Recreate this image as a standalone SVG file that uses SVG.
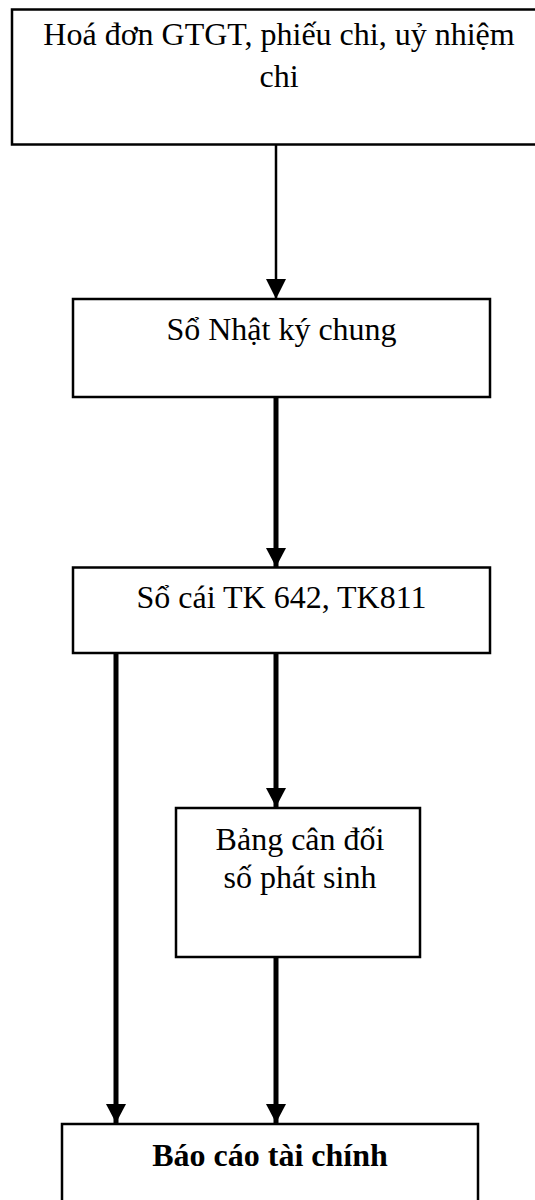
<svg xmlns="http://www.w3.org/2000/svg" width="535" height="1200" viewBox="0 0 535 1200">
<style>
.box{fill:#fff;stroke:#000;stroke-width:2.5}
.t{font-family:"Liberation Serif","Times New Roman",serif;font-size:32px;fill:#000;text-anchor:middle}
.b{font-weight:bold;font-size:32px}
.c{stroke:#000;fill:none}
</style>
<defs>
<marker id="ah" markerUnits="userSpaceOnUse" markerWidth="20" markerHeight="20" viewBox="0 0 17 18" refX="17" refY="9" orient="auto">
<path d="M0,0 L17,9 L0,18 Z" fill="#000"/>
</marker>
<marker id="ah2" markerUnits="userSpaceOnUse" markerWidth="20" markerHeight="20" viewBox="0 0 16 16" refX="16" refY="8" orient="auto">
<path d="M0,0 L16,8 L0,16 Z" fill="#000"/>
</marker>
</defs>
<g id="n1">
<rect class="box" x="12" y="9.5" width="530" height="135"/>
<text class="t" x="279" y="45">Hoá đơn GTGT, phiếu chi, uỷ nhiệm</text>
<text class="t" x="279" y="87">chi</text>
</g>
<g id="n2">
<rect class="box" x="73" y="299" width="417" height="98"/>
<text class="t" x="281.5" y="340">Sổ Nhật ký chung</text>
</g>
<g id="n3">
<rect class="box" x="73" y="567.5" width="417" height="85.5"/>
<text class="t" x="281.5" y="608">Sổ cái TK 642, TK811</text>
</g>
<g id="n4">
<rect class="box" x="176" y="808" width="244" height="149"/>
<text class="t" x="300" y="850">Bảng cân đối</text>
<text class="t" x="300" y="888">số phát sinh</text>
</g>
<g id="n5">
<rect class="box" x="62" y="1124" width="416" height="100"/>
<text class="t b" x="270" y="1166">Báo cáo tài chính</text>
</g>
<g id="connectors">
<line class="c" x1="276" y1="145" x2="276" y2="299" stroke-width="2.5" marker-end="url(#ah2)"/>
<line class="c" x1="276" y1="398" x2="276" y2="567" stroke-width="5" marker-end="url(#ah)"/>
<line class="c" x1="116" y1="654" x2="116" y2="1123" stroke-width="5" marker-end="url(#ah)"/>
<line class="c" x1="276" y1="654" x2="276" y2="807" stroke-width="5" marker-end="url(#ah)"/>
<line class="c" x1="276" y1="958" x2="276" y2="1123" stroke-width="5" marker-end="url(#ah)"/>
</g>
</svg>
